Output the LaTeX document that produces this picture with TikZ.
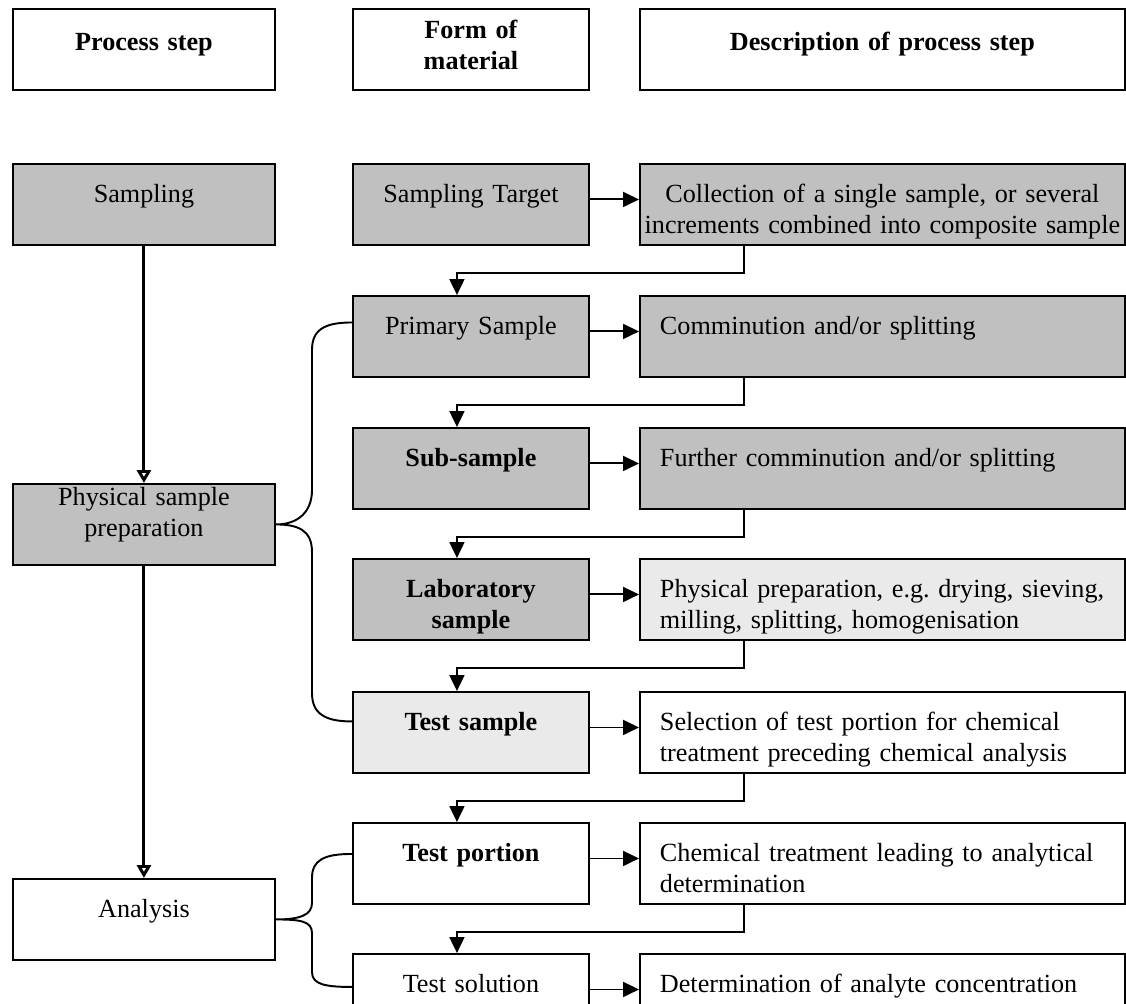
\documentclass[tikz,border=0pt]{standalone}
\usepackage{fontspec}
\setmainfont{Liberation Serif}
\usetikzlibrary{arrows.meta}
\frenchspacing

\definecolor{darkfill}{HTML}{C0C0C0}
\definecolor{lightfill}{HTML}{EAEAEA}

\tikzset{
  cell/.style = {draw, line width=1.1pt, anchor=north west, inner xsep=0pt,
                 inner ysep=0pt, align=center, text height=0.78cm, text depth=0.84cm},
  stepcell/.style = {cell, text width=5.24cm},
  formcell/.style = {cell, text width=4.72cm},
  desccell/.style = {cell, align=left, inner xsep=0.4cm, text width=8.9cm},
  dark/.style = {fill=darkfill},
  light/.style = {fill=lightfill},
  link/.style = {line width=1.1pt, -{Triangle[length=0.32cm, width=0.3cm]}},
  flow/.style = {line width=1.7pt, -{Triangle[open, length=0.26cm, width=0.28cm]}},
  brace/.style = {line width=1.1pt},
}

\begin{document}
\begin{tikzpicture}[x=0.02cm, y=-0.02cm, font=\fontsize{14.9pt}{17.1pt}\selectfont]
  \useasboundingbox (0,0) rectangle (1126,1004);
  \clip (0,0) rectangle (1126,1004);

  % column heads
  \node (h1) [stepcell, text height=0.84cm, text depth=0.78cm] at (12,8) {\textbf{Process step}};
  \node (h2) [formcell, text height=0.6cm, text depth=1.02cm] at (352,8) {\textbf{Form of}\\\textbf{material}};
  \node (h3) [cell, text width=9.7cm, text height=0.84cm, text depth=0.78cm] at (639,8) {\textbf{Description of process step}};

  % process steps
  \node (s1) [stepcell, dark] at (12,163) {Sampling};
  \node (s2) [stepcell, dark, text height=0.44cm, text depth=1.18cm] at (12,483) {Physical sample\\preparation};
  \node (s3) [stepcell] at (12,878) {Analysis};

  % forms of material
  \node (f1) [formcell, dark] at (352,163) {Sampling Target};
  \node (f2) [formcell, dark] at (352,295) {Primary Sample};
  \node (f3) [formcell, dark] at (352,427) {\textbf{Sub-sample}};
  \node (f4) [formcell, dark] at (352,558) {\textbf{Laboratory}\\\textbf{sample}};
  \node (f5) [formcell, light] at (352,691) {\textbf{Test sample}};
  \node (f6) [formcell] at (352,822) {\textbf{Test portion}};
  \node (f7) [formcell] at (352,953) {Test solution};

  % descriptions
  \node (d1) [desccell, dark, align=center, inner xsep=0.04cm, text width=9.62cm] at (639,163)
    {Collection of a single sample, or several\\increments combined into composite sample};
  \node (d2) [desccell, dark] at (639,295) {Comminution and/or splitting};
  \node (d3) [desccell, dark] at (639,427) {Further comminution and/or splitting};
  \node (d4) [desccell, light] at (639,558) {Physical preparation, e.g. drying, sieving,\\milling, splitting, homogenisation};
  \node (d5) [desccell] at (639,691) {Selection of test portion for chemical\\treatment preceding chemical analysis};
  \node (d6) [desccell] at (639,822) {Chemical treatment leading to analytical\\determination};
  \node (d7) [desccell] at (639,953) {Determination of analyte concentration};

  % main flow
  \draw[flow] (s1) -- (s2);
  \draw[flow] (s2) -- (s3);

  % form -> description
  \foreach \i in {1,...,7}
    \draw[link] ([yshift=0.1cm]f\i.east) -- ([yshift=0.1cm]f\i.east -| d\i.west);

  % description -> next form
  \foreach \i/\j in {1/2,2/3,3/4,4/5,5/6,6/7}
    \draw[link] ([xshift=2.1cm]d\i.south west) -- ++(0,27) -| ([xshift=-0.28cm]f\j.north);

  % braces
  \draw[brace] ([yshift=0.28cm]f2.west) .. controls +(-28,0) and +(0,-20) .. (312,350)
    -- (312,490) .. controls +(0,22) and +(22,0) .. (s2.east)
    .. controls +(22,0) and +(0,-22) .. (312,552)
    -- (312,693) .. controls +(0,20) and +(-28,0) .. ([yshift=0.22cm]f5.west);
  \draw[brace] ([yshift=0.19cm]f6.west) .. controls +(-28,0) and +(0,-18) .. (312,878)
    -- (312,903) .. controls +(0,12) and +(24,0) .. (s3.east)
    .. controls +(24,0) and +(0,-12) .. (312,933)
    -- (312,972) .. controls +(0,12) and +(-28,0) .. ([yshift=0.15cm]f7.west);
\end{tikzpicture}
\end{document}
